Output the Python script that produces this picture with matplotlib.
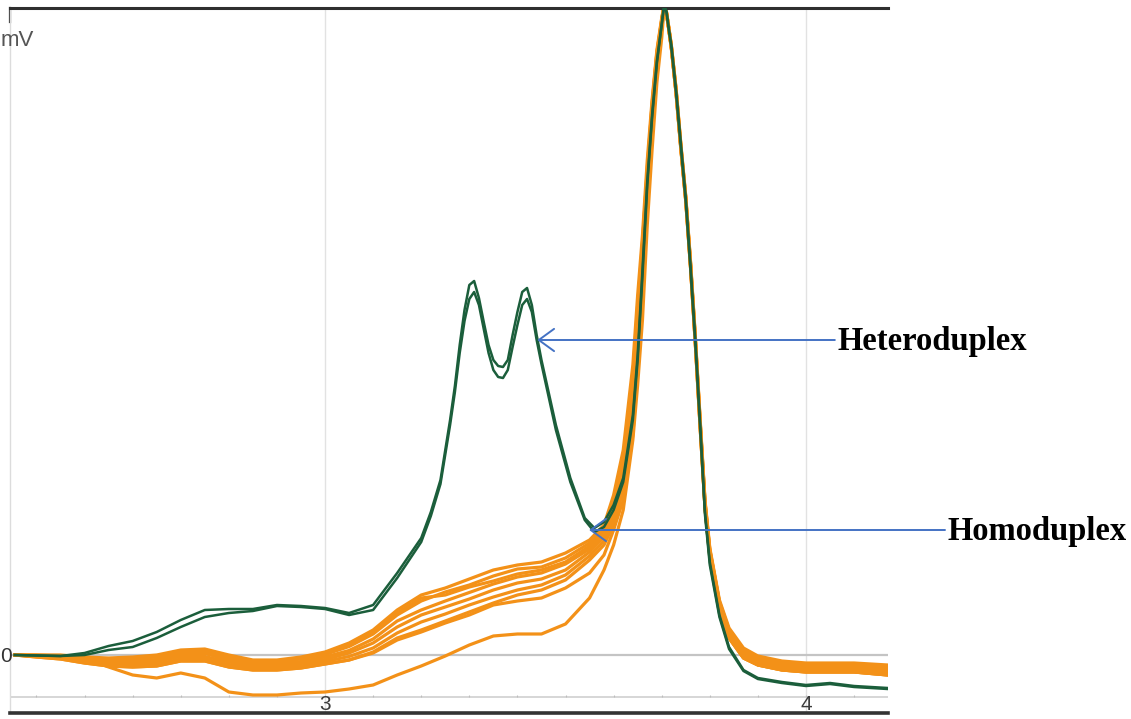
import matplotlib
matplotlib.use('Agg')
import matplotlib.pyplot as plt
import numpy as np


W_PX, H_PX = 1131, 719

GREEN = '#1b5e3b'
ORANGE = '#f39118'
ARROW_BLUE = '#4472c4'

# retention time (min) for the two heteroduplex (green) traces
green_t = [2.355, 2.40, 2.45, 2.50, 2.55, 2.60, 2.65, 2.70, 2.75, 2.80,
           2.85, 2.90, 2.95, 3.00, 3.05, 3.10, 3.15, 3.20, 3.22, 3.24,
           3.26, 3.27, 3.28, 3.29, 3.30, 3.31, 3.32, 3.33, 3.34, 3.35,
           3.36, 3.37, 3.38, 3.39, 3.40, 3.41, 3.42, 3.43, 3.44, 3.45,
           3.48, 3.51, 3.54, 3.56, 3.58, 3.60, 3.62, 3.64, 3.65, 3.66,
           3.67, 3.68, 3.69, 3.70, 3.705, 3.71, 3.715, 3.72, 3.73, 3.74,
           3.75, 3.76, 3.77, 3.78, 3.79, 3.80, 3.82, 3.84, 3.87, 3.90,
           3.95, 4.00, 4.05, 4.10, 4.17]

green_a = [0, -0.1, -0.2, 0.4, 1.8, 2.8, 4.6, 7.0, 9.0, 9.2,
           9.2, 10.0, 9.8, 9.4, 8.4, 10.0, 16.4, 23.4, 28.6, 35.0,
           47.0, 53.8, 62.0, 69.0, 74.0, 74.8, 71.4, 66.6, 62.0, 59.0,
           57.8, 57.6, 59.0, 64.0, 68.6, 72.6, 73.4, 70.0, 64.0, 59.0,
           46.0, 35.4, 27.4, 25.4, 26.6, 30.0, 35.4, 48.0, 60.0, 77.0,
           94.8, 108.0, 118.8, 126.0, 130.0, 128.6, 125.0, 122.0, 112.8, 102.0,
           91.4, 77.8, 63.0, 46.2, 28.6, 18.6, 8.0, 1.6, -3.0, -4.6,
           -5.4, -6.0, -5.6, -6.2, -6.6]

green_b = [0, -0.1, -0.2, 0.0, 1.0, 1.6, 3.4, 5.6, 7.6, 8.4,
           8.8, 9.8, 9.6, 9.2, 8.0, 9.0, 15.4, 22.6, 27.8, 34.2,
           46.0, 52.6, 60.4, 66.8, 71.2, 72.6, 70.0, 65.2, 60.4, 57.0,
           55.6, 55.4, 57.0, 61.6, 66.0, 70.0, 71.2, 68.6, 63.0, 58.2,
           45.0, 34.6, 27.0, 24.6, 25.6, 29.0, 34.6, 47.0, 59.0, 75.8,
           94.0, 107.4, 118.4, 126.2, 130.0, 128.6, 125.0, 121.6, 112.4, 101.4,
           90.8, 77.0, 62.2, 45.4, 28.0, 18.0, 7.6, 1.2, -3.2, -4.8,
           -5.6, -6.2, -5.8, -6.4, -6.8]

# retention time (min) for the homoduplex (orange) traces
orange_t = [2.355, 2.40, 2.45, 2.50, 2.55, 2.60, 2.65, 2.70, 2.75, 2.80,
            2.85, 2.90, 2.95, 3.00, 3.05, 3.10, 3.15, 3.20, 3.25, 3.30,
            3.35, 3.40, 3.45, 3.50, 3.55, 3.58, 3.60, 3.62, 3.64, 3.65,
            3.66, 3.67, 3.68, 3.69, 3.70, 3.705, 3.71, 3.715, 3.72, 3.73,
            3.74, 3.75, 3.76, 3.77, 3.78, 3.79, 3.80, 3.82, 3.84, 3.87,
            3.90, 3.95, 4.00, 4.05, 4.10, 4.17]

orange_1 = [0, 0, 0, -0.4, -0.6, -0.4, 0, 1.0, 1.2, 0,
            -1.0, -1.0, -0.4, 0.6, 2.4, 5.0, 9.0, 12.0, 13.4, 15.2,
            17.0, 18.0, 18.6, 20.4, 23.0, 26.0, 32.0, 41.0, 58.0, 72.0,
            84.0, 99.0, 111.0, 121.0, 127.4, 130.0, 128.6, 125.4, 122.0, 113.2,
            102.0, 91.8, 78.6, 63.6, 47.0, 31.0, 21.4, 11.0, 5.4, 1.4,
            -0.2, -1.2, -1.6, -1.6, -1.6, -2.0]

orange_2 = [0, -0.1, -0.2, -0.6, -0.9, -0.8, -0.4, 0.5, 0.7, -0.5,
            -1.4, -1.4, -0.8, 0.1, 1.7, 4.2, 8.0, 10.8, 12.6, 14.0,
            15.8, 17.2, 17.6, 19.4, 22.4, 25.2, 31.0, 39.4, 56.0, 70.0,
            82.5, 97.0, 110.3, 120.5, 127.1, 130.0, 128.5, 125.3, 121.9, 113.0,
            101.8, 91.6, 78.4, 63.3, 46.7, 30.7, 21.1, 10.7, 5.0, 1.0,
            -0.6, -1.6, -2.0, -2.0, -2.0, -2.4]

orange_3 = [0, -0.2, -0.3, -0.9, -1.3, -1.2, -0.9, 0.1, 0.3, -1.0,
            -1.8, -1.8, -1.3, -0.4, 0.9, 3.2, 6.8, 9.0, 10.8, 12.5,
            14.2, 15.6, 16.4, 18.2, 21.2, 24.4, 29.6, 37.8, 53.5, 67.5,
            81.0, 96.0, 109.5, 120.0, 126.8, 130.0, 128.4, 125.2, 121.8, 112.8,
            101.6, 91.4, 78.1, 63.0, 46.4, 30.4, 20.8, 10.4, 4.6, 0.6,
            -1.0, -2.0, -2.3, -2.4, -2.4, -2.8]

orange_4 = [0, -0.2, -0.5, -1.1, -1.6, -1.6, -1.3, -0.3, -0.3, -1.4,
            -2.2, -2.2, -1.7, -0.9, 0.4, 2.4, 5.6, 8.0, 9.6, 11.2,
            13.0, 14.4, 15.2, 17.0, 20.6, 23.6, 28.4, 36.2, 51.4, 65.0,
            79.4, 95.0, 108.8, 119.5, 126.4, 130.0, 128.4, 125.1, 121.6, 112.6,
            101.4, 91.2, 77.9, 62.7, 46.0, 30.0, 20.4, 10.0, 4.2, 0.2,
            -1.4, -2.3, -2.7, -2.7, -2.8, -3.2]

orange_5 = [0, -0.3, -0.6, -1.4, -1.9, -2.0, -1.8, -0.8, -0.8, -1.9,
            -2.6, -2.6, -2.2, -1.3, -0.3, 1.4, 4.4, 6.6, 8.2, 10.0,
            11.6, 13.0, 14.0, 16.0, 19.8, 22.8, 27.2, 34.6, 49.2, 63.0,
            77.6, 94.0, 108.0, 119.0, 126.1, 129.8, 128.3, 125.0, 121.5, 112.4,
            101.2, 91.0, 77.6, 62.4, 45.7, 29.7, 20.1, 9.7, 3.8, -0.2,
            -1.7, -2.6, -3.0, -3.1, -3.1, -3.6]

orange_6 = [0, -0.4, -0.8, -1.6, -2.2, -2.4, -2.2, -1.2, -1.2, -2.4,
            -3.0, -3.0, -2.6, -1.8, -1.0, 0.6, 3.4, 5.0, 6.8, 8.6,
            10.4, 12.0, 13.0, 15.0, 19.0, 22.0, 26.0, 33.0, 47.0, 61.0,
            76.0, 93.0, 107.4, 118.5, 125.8, 129.6, 128.2, 124.9, 121.4, 112.2,
            101.0, 90.8, 77.4, 62.1, 45.4, 29.4, 19.8, 9.4, 3.4, -0.6,
            -2.0, -3.0, -3.4, -3.4, -3.4, -4.0]

orange_7 = [0, -0.4, -0.8, -1.6, -2.2, -2.4, -2.2, -1.2, -1.2, -2.4,
            -3.0, -3.0, -2.6, -1.8, -1.0, 0.4, 3.0, 4.6, 6.4, 8.0,
            10.0, 10.8, 11.4, 13.4, 16.4, 20.0, 25.0, 31.0, 44.0, 58.0,
            72.0, 90.0, 104.0, 117.5, 125.4, 129.6, 128.2, 124.9, 121.4, 112.2,
            101.0, 90.8, 77.4, 62.1, 45.4, 29.4, 19.8, 9.4, 3.4, -0.6,
            -2.0, -3.0, -3.4, -3.4, -3.4, -4.0]

orange_8 = [0, 0, -0.2, -0.6, -2.4, -4.0, -4.6, -3.6, -4.6, -7.4,
            -8.0, -8.0, -7.6, -7.4, -6.8, -6.0, -4.0, -2.2, -0.2, 2.0,
            3.8, 4.2, 4.2, 6.2, 11.4, 17.0, 22.0, 29.0, 43.0, 54.0,
            67.0, 86.0, 101.0, 114.5, 123.4, 129.4, 128.2, 124.9, 121.4, 112.2,
            101.0, 90.8, 77.4, 62.1, 45.4, 29.4, 19.8, 9.4, 3.4, -0.6,
            -2.0, -3.0, -3.4, -3.4, -3.4, -4.0]

orange_9 = [0, -0.1, -0.1, -0.5, -0.8, -0.6, -0.2, 0.8, 1.0, -0.2,
            -1.2, -1.2, -0.6, 0.3, 2.0, 4.6, 8.4, 11.4, 12.0, 13.6,
            14.8, 16.2, 17.0, 18.6, 21.8, 24.8, 30.2, 38.6, 55.0, 69.0,
            82.0, 97.5, 110.0, 120.4, 127.0, 130.0, 128.5, 125.2, 121.8, 112.9,
            101.7, 91.5, 78.3, 63.2, 46.6, 30.6, 21.0, 10.6, 4.9, 0.8,
            -0.8, -1.8, -2.2, -2.2, -2.3, -2.6]

x_tick_values = [3, 4]
x_tick_labels = ['3', '4']

# (label, arrow tip time, arrow tip mV, line start time)
annotations = [('Heteroduplex', 3.441, 63.0, 4.060),
               ('Homoduplex', 3.549, 25.0, 4.289)]

X_MIN, X_MAX = 2.345, 4.1705
Y_MIN, Y_MAX = -11.6, 129.4
AXIS_LINE_Y = -8.4


def px_to_fig(x, y):
    return x / W_PX, 1 - y / H_PX


def make_fig_and_axes():

    fig = plt.figure(figsize=(W_PX / 100, H_PX / 100), dpi=100)

    left, top = px_to_fig(10, 8)
    right, bottom = px_to_fig(888, 713)
    ax = fig.add_axes([left, bottom, right - left, top - bottom])

    ax.set_xlim(X_MIN, X_MAX)
    ax.set_ylim(Y_MIN, Y_MAX)
    ax.set_xticks([])
    ax.set_yticks([])

    ax.spines['right'].set_visible(False)
    ax.spines['left'].set_color('#dcdcdc')
    ax.spines['left'].set_linewidth(1.0)
    ax.spines['top'].set_color('#2f2f2f')
    ax.spines['top'].set_linewidth(2.2)
    ax.spines['bottom'].set_color('#333333')
    ax.spines['bottom'].set_linewidth(2.6)

    return fig, ax


def draw_frame(fig, ax):

    for x in x_tick_values:
        ax.axvline(x, color='#e2e2e2', lw=1.0, zorder=0)

    ax.axhline(0, color='#c4c4c4', lw=1.6, zorder=0)
    ax.axhline(AXIS_LINE_Y, color='#d0d0d0', lw=1.2, zorder=0)

    minor_ticks = np.arange(2.4, 4.15, 0.1)
    ax.vlines(minor_ticks, AXIS_LINE_Y, AXIS_LINE_Y + 0.5,
              color='#bdbdbd', lw=0.8, zorder=0)

    for x, lab in zip(x_tick_values, x_tick_labels):
        ax.text(x, -9.9, lab, ha='center', va='center', fontsize=15,
                color='#3c3c3c', family='Liberation Sans', clip_on=False)

    # small dark tick at the top-left corner of the frame
    ax.plot([X_MIN, X_MIN], [Y_MAX, Y_MAX - 2.8], color='#2f2f2f',
            lw=1.6, clip_on=False)

    x, y = px_to_fig(1, 40)
    fig.text(x, y, 'mV', ha='left', va='center', fontsize=16,
             color='#555555', family='Liberation Sans')
    x, y = px_to_fig(12, 656)
    fig.text(x, y, '0', ha='right', va='center', fontsize=15,
             color='#333333', family='Liberation Sans')


def plot_traces(ax):

    orange_traces = [orange_8, orange_7, orange_6, orange_5, orange_4,
                     orange_3, orange_9, orange_2, orange_1]
    for trace in orange_traces:
        ax.plot(orange_t, trace, color=ORANGE, lw=2.3,
                solid_joinstyle='round', zorder=2)

    for trace in [green_b, green_a]:
        ax.plot(green_t, trace, color=GREEN, lw=1.8,
                solid_joinstyle='round', zorder=3)


def add_labels(fig, ax):

    for label, tip_t, tip_y, start_t in annotations:
        ax.annotate('', xy=(tip_t, tip_y), xytext=(start_t, tip_y),
                    annotation_clip=False,
                    arrowprops=dict(arrowstyle='->,head_length=0.55,head_width=0.4',
                                    mutation_scale=20, color=ARROW_BLUE,
                                    lw=1.4, shrinkA=0, shrinkB=0))
        ax.annotate(label, xy=(start_t, tip_y), xytext=(2, -1),
                    textcoords='offset points', ha='left', va='center',
                    annotation_clip=False, fontsize=23.5, fontweight='bold',
                    family='Liberation Serif', color='black')


def plot_chromatogram():

    fig, ax = make_fig_and_axes()
    draw_frame(fig, ax)
    plot_traces(ax)
    add_labels(fig, ax)

    fig.savefig('out.png', dpi=100)
    plt.close(fig)


if '__main__' == __name__:
    plot_chromatogram()
